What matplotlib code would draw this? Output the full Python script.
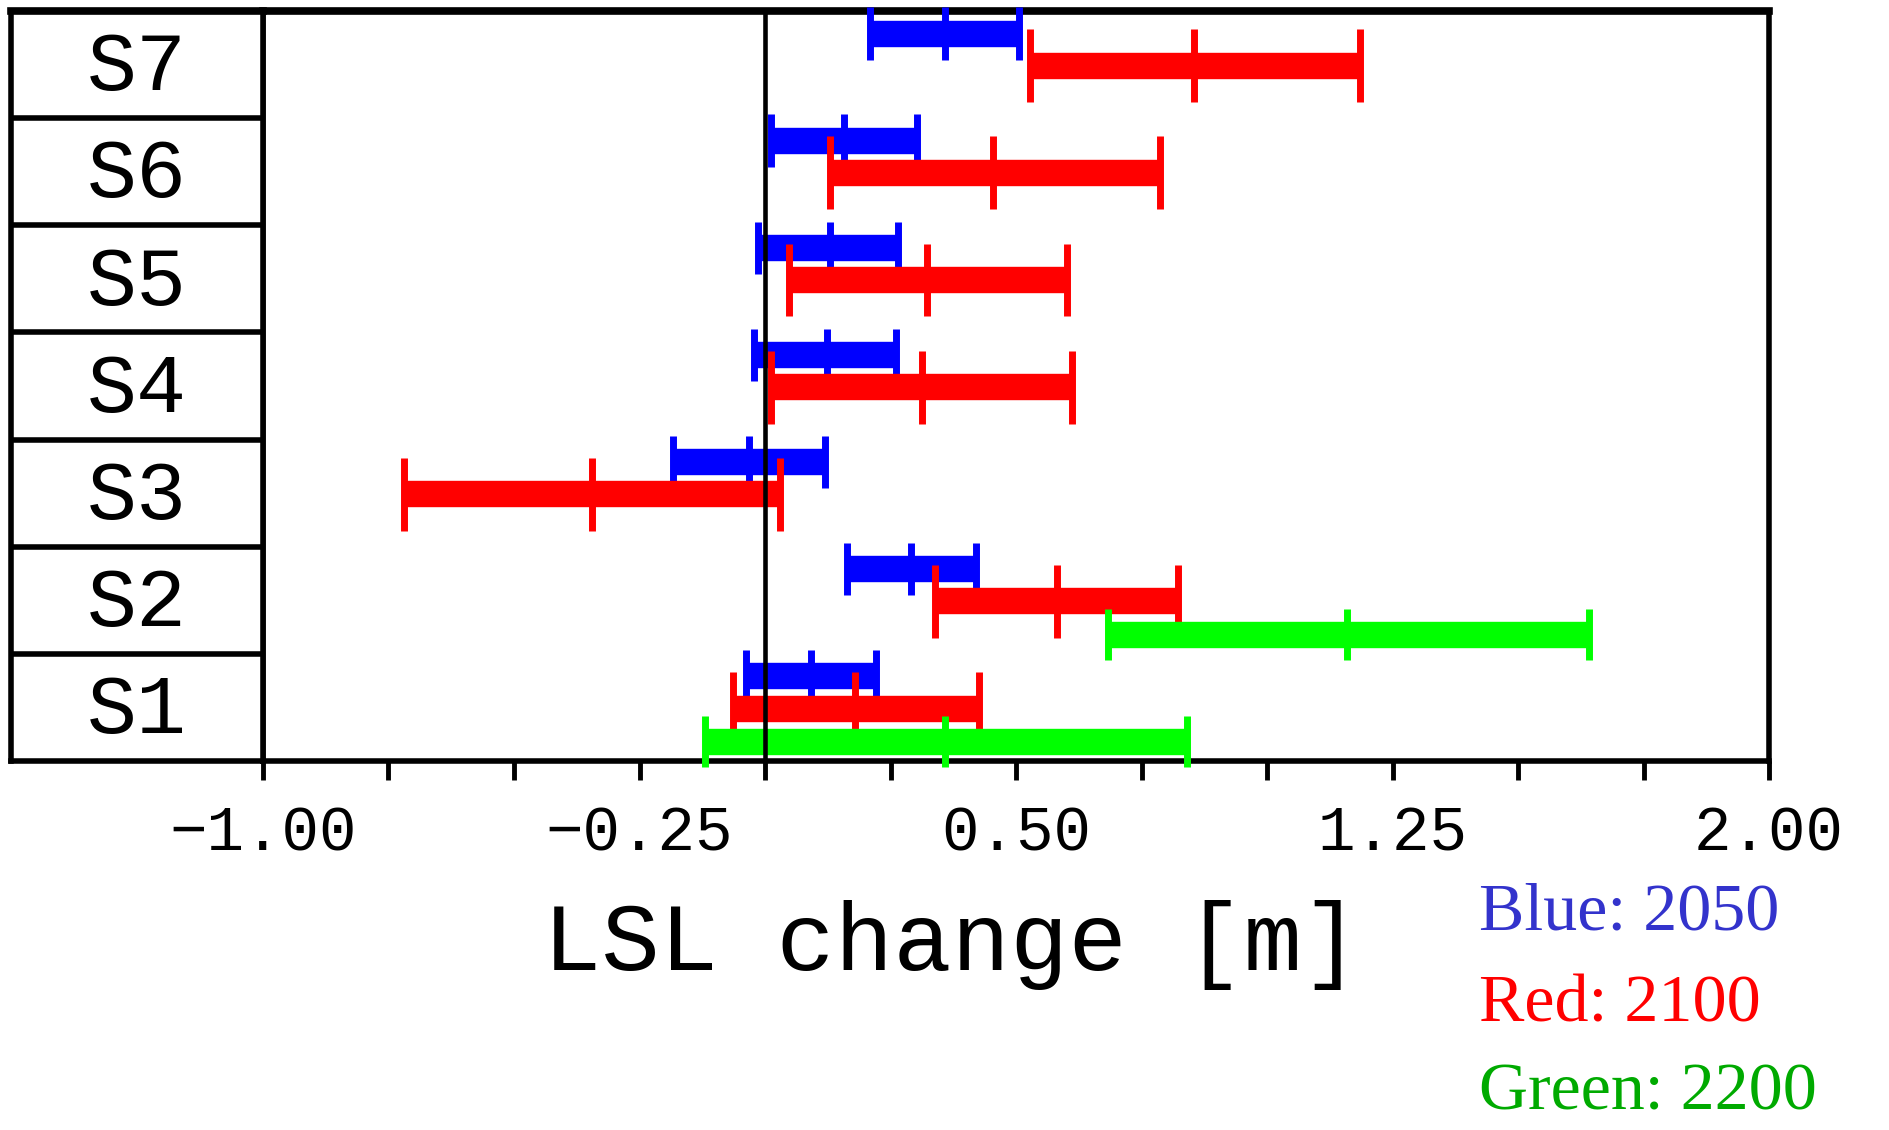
import matplotlib
matplotlib.use('Agg')
import matplotlib.pyplot as plt
import numpy as np

# ---------------- data ----------------
sites = ['S1', 'S2', 'S3', 'S4', 'S5', 'S6', 'S7']

blue_low = [-0.038, 0.163, -0.183, -0.022, -0.014, 0.012, 0.209]
blue_mid = [0.092, 0.291, -0.031, 0.124, 0.129, 0.157, 0.359]
blue_high = [0.221, 0.420, 0.119, 0.261, 0.265, 0.303, 0.506]

red_low = [-0.063, 0.339, -0.719, 0.012, 0.048, 0.129, 0.528]
red_mid = [0.179, 0.582, -0.345, 0.313, 0.322, 0.454, 0.855]
red_high = [0.426, 0.822, 0.030, 0.612, 0.601, 0.787, 1.185]

green_sites = ['S1', 'S2']
green_low = [-0.120, 0.683]
green_mid = [0.359, 1.159]
green_high = [0.841, 1.641]

xtick_values = [-1.00, -0.75, -0.50, -0.25, 0.00, 0.25, 0.50, 0.75, 1.00, 1.25, 1.50, 1.75, 2.00]
xtick_labels = ['\u22121.00', '', '', '\u22120.25', '', '', '0.50', '', '', '1.25', '', '', '2.00']

legend_texts = ['Blue: 2050', 'Red: 2100', 'Green: 2200']
xlabel_text = 'LSL change [m]'

# ---------------- layout ----------------
W, H = 1889, 1130
fig = plt.figure(figsize=(W / 100, H / 100), dpi=100)
fig.patch.set_facecolor('white')


def fx(px):
    return px / W


def fy(py):
    return 1 - py / H


plot_l, plot_r, plot_t, plot_b = 263, 1769, 11, 761
tab_l = 11
MONO = ['Liberation Mono', 'DejaVu Sans Mono']
SERIF = ['Liberation Serif', 'DejaVu Serif']
frame_lw = 4.0

ax = fig.add_axes([fx(plot_l), fy(plot_b), (plot_r - plot_l) / W, (plot_b - plot_t) / H])
tab = fig.add_axes([fx(tab_l), fy(plot_b), (plot_l - tab_l) / W, (plot_b - plot_t) / H])

n = len(sites)
ax.set_xlim(-1, 2)
ax.set_ylim(0, n)
tab.set_xlim(0, 1)
tab.set_ylim(0, n)

# ---------------- bars ----------------
bar_lw = 19
cap_lw = 5


def draw_series(names, low, mid, high, color, off, half, z):
    idx = np.array([sites.index(s) for s in names])
    y = idx + off
    ax.hlines(y, low, high, colors=color, lw=bar_lw, capstyle='butt', zorder=z)
    for xs in (low, mid, high):
        ax.vlines(xs, y - half, y + half, colors=color, lw=cap_lw, capstyle='butt',
                  zorder=z + 0.5, clip_on=False)


draw_series(sites, blue_low, blue_mid, blue_high, '#0000ff', 0.79, 0.245, 8)
draw_series(sites, red_low, red_mid, red_high, '#ff0000', 0.49, 0.34, 9)
draw_series(green_sites, green_low, green_mid, green_high, '#00ff00', 0.18, 0.24, 10)

ax.axvline(0, color='black', lw=3.3, zorder=12)

# ---------------- axes styling ----------------
for sp in ax.spines.values():
    sp.set_linewidth(frame_lw)
    sp.set_zorder(7)
ax.spines['top'].set_linewidth(5.5)
ax.set_yticks([])
ax.set_xticks(xtick_values)
ax.set_xticklabels(xtick_labels, family=MONO, fontsize=45)
ax.tick_params(axis='x', direction='out', length=14, width=3.5, pad=17, color='black')

for sp in tab.spines.values():
    sp.set_linewidth(frame_lw)
tab.spines['top'].set_linewidth(5.5)
tab.set_xticks([])
tab.set_yticks([])
for i in range(1, n):
    tab.axhline(i, color='black', lw=frame_lw)
for i, s in enumerate(sites):
    tab.text(0.5, i + 0.26, s, ha='center', va='baseline', fontsize=60, family=MONO)

# ---------------- labels ----------------
fig.text(fx(952), fy(970), xlabel_text, ha='center', va='baseline', fontsize=70, family=MONO)

legend_colors = ['#3333cc', '#ff0000', '#00aa00']
legend_base = [930, 1022, 1110]
for t, c, b in zip(legend_texts, legend_colors, legend_base):
    fig.text(fx(1479), fy(b), t, ha='left', va='baseline', fontsize=49, family=SERIF, color=c)

fig.savefig('out.png', dpi=100)
